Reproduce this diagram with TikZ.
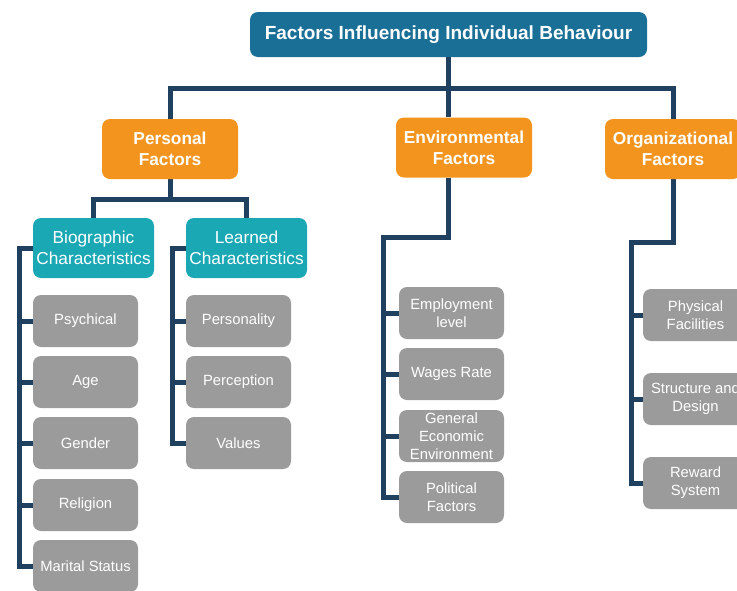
\documentclass[tikz,border=0pt]{standalone}
\usepackage{fontspec}
\setmainfont{Liberation Sans}
\usetikzlibrary{backgrounds}
\definecolor{titleblue}{HTML}{1A6F96}
\definecolor{orangef}{HTML}{F3941F}
\definecolor{tealf}{HTML}{1BA8B5}
\definecolor{grayf}{HTML}{9B9B9B}
\definecolor{navy}{HTML}{1F405F}
\tikzset{
  box/.style={rounded corners=8pt, inner sep=0pt, align=center, text=white, draw=none},
  titlebox/.style={box, fill=titleblue, minimum width=397pt, minimum height=45pt, font=\fontsize{19}{22}\selectfont\bfseries},
  catbox/.style={box, fill=orangef, minimum width=136pt, minimum height=60pt, font=\fontsize{17.3}{21}\selectfont\bfseries},
  subbox/.style={box, fill=tealf, minimum width=121pt, minimum height=60pt, font=\fontsize{17.3}{21}\selectfont},
  leaf/.style={box, fill=grayf, minimum width=105pt, minimum height=52pt, font=\fontsize{14.8}{18}\selectfont},
  conn/.style={draw=navy, line width=5pt}
}
\begin{document}
\begin{tikzpicture}[x=1pt,y=-1pt]
\useasboundingbox (0,0) rectangle (737,590);
\clip (0,0) rectangle (737,590);
% nodes
\node[titlebox] (title) at (448.5,34.5) {Factors Influencing Individual Behaviour};
\node[catbox] (pf) at (170,149) {Personal\\Factors};
\node[catbox] (ef) at (464,147.5) {Environmental\\Factors};
\node[catbox] (of) at (673,149) {Organizational\\Factors};
\node[subbox] (bio) at (93.5,248) {Biographic\\Characteristics};
\node[subbox] (lea) at (246.5,248) {Learned\\Characteristics};
% biographic leaves
\node[leaf] (psy) at (85.5,321) {Psychical};
\node[leaf] (age) at (85.5,382) {Age};
\node[leaf] (gen) at (85.5,443) {Gender};
\node[leaf] (rel) at (85.5,505) {Religion};
\node[leaf] (mar) at (85.5,566) {Marital Status};
% learned leaves
\node[leaf] (per) at (238.5,321) {Personality};
\node[leaf] (perc) at (238.5,382) {Perception};
\node[leaf] (val) at (238.5,443) {Values};
% environmental leaves
\node[leaf] (emp) at (451.5,313) {Employment\\level};
\node[leaf] (wag) at (451.5,374) {Wages Rate};
\node[leaf] (gee) at (451.5,436) {General\\Economic\\Environment};
\node[leaf] (pol) at (451.5,497) {Political\\Factors};
% organizational leaves
\node[leaf] (phy) at (695.5,315) {Physical\\Facilities};
\node[leaf] (str) at (695.5,399) {Structure and\\Design};
\node[leaf] (rew) at (695.5,483) {Reward\\System};
% junction coordinates
\coordinate (bar) at (448.5,88);
\coordinate (pj) at (170,199);
\coordinate (bx) at (19,0);
\coordinate (lx) at (172,0);
\coordinate (ej) at (383,237);
\coordinate (oj) at (631,242);
\begin{scope}[on background layer]
\fill[white] (0,0) rectangle (737,590);
\draw[conn] (title.south) -- (title.south |- ef.north);
\draw[conn] (pf.north) |- (bar) -| (of.north);
\draw[conn] (pf.south) |- (pj) -| (bio.north);
\draw[conn] (pj) -| (lea.north);
% biographic spine
\draw[conn] (bio.west) -- (bio.west -| bx) |- (mar.west);
\foreach \n in {psy,age,gen,rel} \draw[conn] (\n.west -| bx) -- (\n.west);
% learned spine
\draw[conn] (lea.west) -- (lea.west -| lx) |- (val.west);
\foreach \n in {per,perc} \draw[conn] (\n.west -| lx) -- (\n.west);
% environmental spine
\draw[conn] (ef.south -| title.south) |- (ej) |- (pol.west);
\foreach \n in {emp,wag,gee} \draw[conn] (\n.west -| ej) -- (\n.west);
% organizational spine
\draw[conn] (of.south) |- (oj) |- (rew.west);
\foreach \n in {phy,str} \draw[conn] (\n.west -| oj) -- (\n.west);
\end{scope}
\end{tikzpicture}
\end{document}
